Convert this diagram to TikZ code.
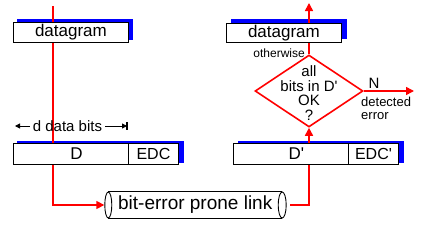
\documentclass[tikz,border=0pt]{standalone}
\usepackage{fontspec}
\setmainfont{Liberation Sans}[Ligatures=TeXOff]
\usetikzlibrary{arrows.meta,shapes.geometric}
\pgfdeclarelayer{background}
\pgfsetlayers{background,main}
\begin{document}
\begin{tikzpicture}[x=1pt,y=-1pt,
  box/.style={draw=black, line width=0.9pt, fill=white, inner sep=0pt, anchor=north west},
  redline/.style={draw=red, line width=1.6pt},
  redtip/.style={-{Triangle[length=8pt,width=8pt]}},
  blacktip/.style={-{Triangle[length=5pt,width=5pt]}},
  shadowfill/.style={fill=blue},
  fs/.style={font=\fontsize{#1}{#1}\selectfont}]

\useasboundingbox (0,0) rectangle (421,225);

% boxes
\node[box, minimum width=115pt, minimum height=20pt, fs=17] (dgL) at (13,22) {datagram};
\node[box, minimum width=115pt, minimum height=19pt, fs=17] (dgR) at (226,23) {datagram};
\node[box, minimum width=115pt, minimum height=21pt, fs=17] (D) at (13,143) {\hspace*{11pt}D};
\node[box, minimum width=50pt, minimum height=21pt, fs=16] (EDC) at (128,143) {EDC};
\node[box, minimum width=115pt, minimum height=21pt, fs=17] (Dp) at (233,143) {\hspace*{11pt}D'};
\node[box, minimum width=50pt, minimum height=21pt, fs=16] (EDCp) at (348,143) {EDC'};

% decision diamond
\node[draw=red, line width=1.6pt, diamond, minimum width=108pt, minimum height=72pt, inner sep=0pt] (dia) at (309,91) {};
\node[align=center, font=\fontsize{15}{14.5}\selectfont, inner sep=0pt] (diaT) at (309,93) {all\\bits in D'\\OK\\?};

% labels
\node[anchor=east, fs=12, inner sep=0pt] (other) at (305,53) {otherwise};
\node[fs=15, inner sep=0pt] (N) at (374,83) {N};
\node[anchor=north west, align=left, font=\fontsize{13}{13}\selectfont, inner sep=0pt] (det) at (361,97) {detected\\error};
\node[fs=15, inner sep=3pt] (dbits) at (67.5,126) {d data bits};

% link cylinder
\node[minimum width=173.5pt, minimum height=26pt, inner sep=0pt, fs=19] (link) at (195.25,205) {bit-error prone link};
\draw[line width=0.9pt] (link.north west) -- (link.north east) (link.south west) -- (link.south east);
\draw[line width=0.9pt, fill=white] (link.west) ellipse [x radius=3.5pt, y radius=13pt];
\draw[line width=0.9pt] (link.east) ellipse [x radius=4pt, y radius=13pt];

% coordinates
\coordinate (topL) at (53,6);
\coordinate (topR) at (0,3);
\coordinate (Nend) at (414,91);
\coordinate (dL) at (15,126);
\coordinate (dR) at (127,126);

\begin{pgfonlayer}{background}
  \fill[white] (0,0) rectangle (421,225);
  \fill[shadowfill] ([shift={(4pt,3pt)}]dgL.south west) rectangle ([shift={(4pt,3pt)}]dgL.north east);
  \fill[shadowfill] ([shift={(5pt,4pt)}]dgR.south west) rectangle ([shift={(5pt,4pt)}]dgR.north east);
  \fill[shadowfill] ([shift={(4pt,2pt)}]D.south west) rectangle ([shift={(5pt,2pt)}]EDC.north east);
  \fill[shadowfill] ([shift={(5pt,2pt)}]Dp.south west) rectangle ([shift={(5pt,2pt)}]EDCp.north east);
  \draw[redline, redtip] (topL) |- ([xshift=-4pt]link.west);
  \draw[redline] ([xshift=8pt]link.east) -| (dia.south |- Dp.south);
  \draw[redline, redtip] (dia.north) -- (dia.north |- topR);
\end{pgfonlayer}

\draw[redline, redtip] (dia.south |- Dp.north) -- (dia.south);
\draw[redline, redtip] (dia.east) -- (Nend);

\draw[line width=1pt, blacktip] (dbits.west) -- (dL);
\draw[line width=1pt, blacktip] (dbits.east) -- (dR);
\draw[line width=1.5pt] ([yshift=4pt]dR) -- ([yshift=-4pt]dR);
\end{tikzpicture}
\end{document}
